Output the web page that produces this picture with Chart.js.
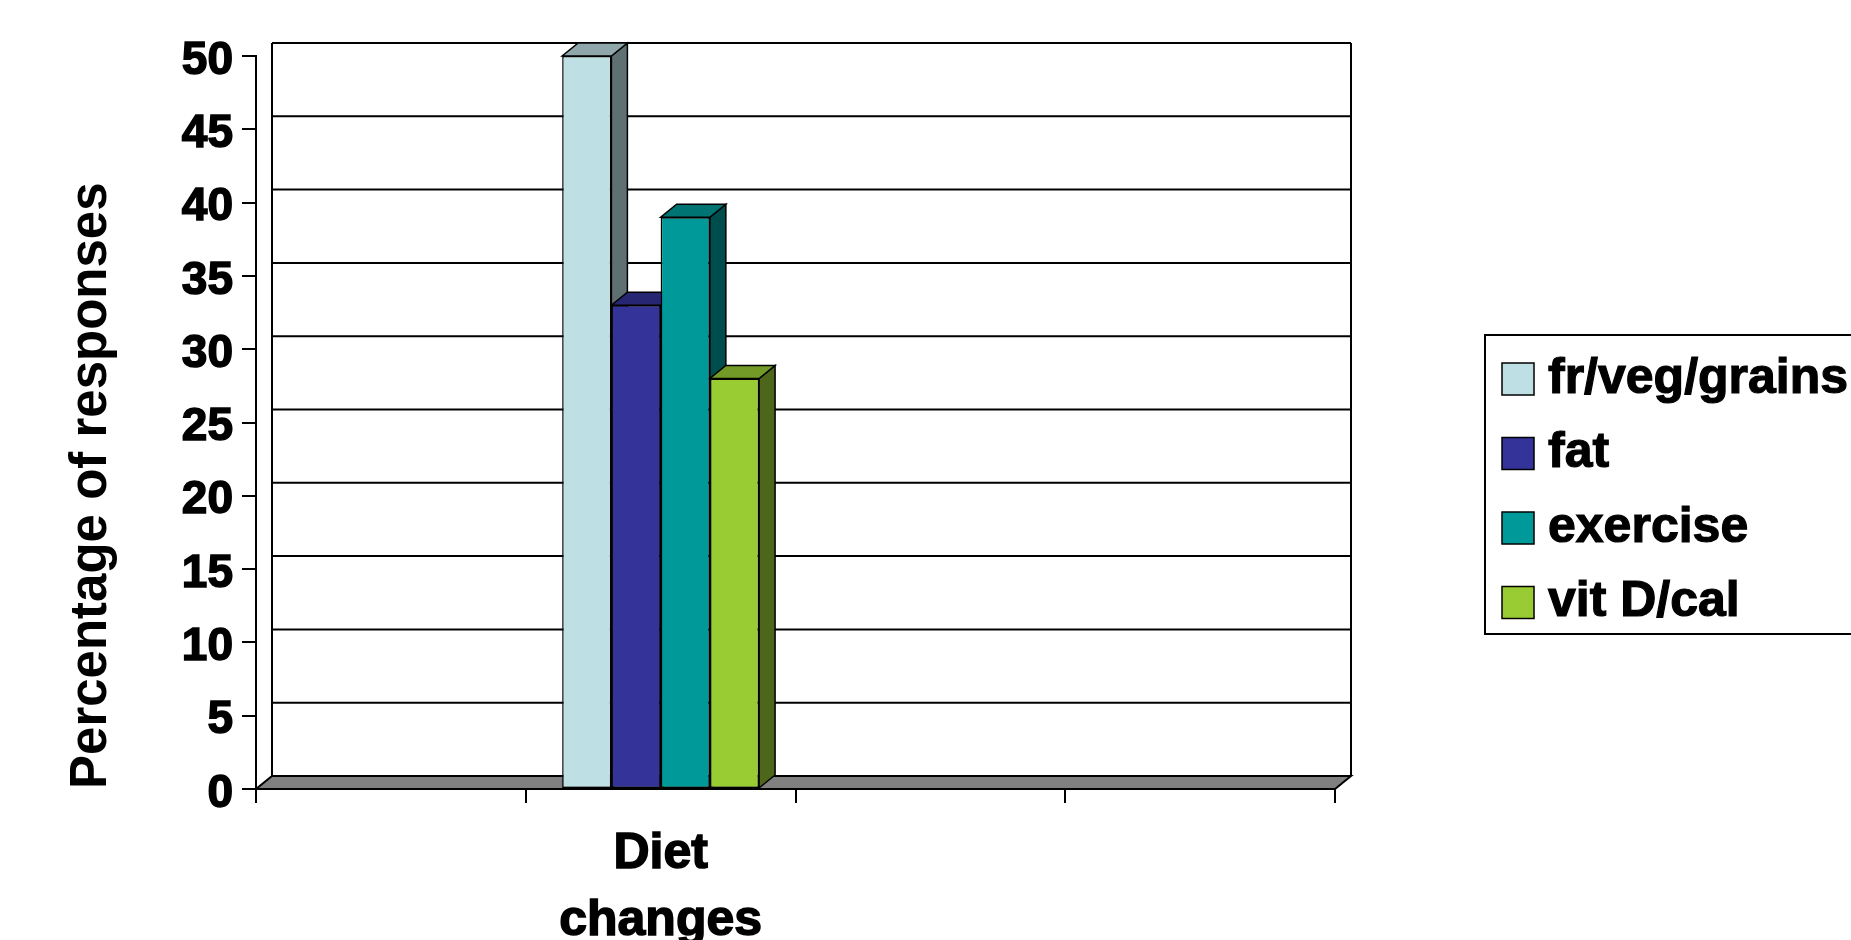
<!DOCTYPE html>
<html>
<head>
<meta charset="utf-8">
<script src="https://cdn.jsdelivr.net/npm/chart.js@4.4.1/dist/chart.umd.min.js"></script>
<style>
  html, body { margin: 0; padding: 0; background: #fff; overflow: hidden; }
  #wrap { width: 1851px; height: 940px; position: relative; }
</style>
</head>
<body>
<div id="wrap"><canvas id="chart"></canvas></div>
<script>
// data
const categories = ["", ["Diet", "changes"], "", ""];
const seriesNames = ["fr/veg/grains", "fat", "exercise", "vit D/cal"];
const dietChanges = [50, 33, 39, 28];
const yMin = 0, yMax = 50, yStep = 5;

const seriesColors = ["#BEDFE3", "#333399", "#009999", "#99CC33"];
const FONT = "'Liberation Sans', Arial, sans-serif";
const DX = 16, DY = -13; // depth of the fake 3d

function shade(hex, f) {
  const n = parseInt(hex.slice(1), 16);
  const r = Math.round(((n >> 16) & 255) * f);
  const g = Math.round(((n >> 8) & 255) * f);
  const b = Math.round((n & 255) * f);
  return `rgb(${r},${g},${b})`;
}

function poly(ctx, pts, fill) {
  ctx.beginPath();
  ctx.moveTo(pts[0][0], pts[0][1]);
  for (let i = 1; i < pts.length; i++) ctx.lineTo(pts[i][0], pts[i][1]);
  ctx.closePath();
  ctx.fillStyle = fill;
  ctx.fill();
  ctx.stroke();
}

const depthPlugin = {
  id: "depth3d",
  beforeDatasetsDraw(chart) {
    const { ctx, chartArea: a } = chart;
    const y = chart.scales.y;
    ctx.save();
    ctx.strokeStyle = "#000";
    ctx.lineWidth = 2;
    // back wall gridlines
    y.ticks.forEach(t => {
      const py = y.getPixelForValue(t.value) + DY;
      ctx.beginPath();
      ctx.moveTo(a.left + DX, py);
      ctx.lineTo(a.right + DX, py);
      ctx.stroke();
    });
    [a.left + DX, a.right + DX].forEach(px => {
      ctx.beginPath();
      ctx.moveTo(px, a.top + DY);
      ctx.lineTo(px, a.bottom + DY);
      ctx.stroke();
    });
    // floor
    poly(ctx, [[a.left, a.bottom], [a.right, a.bottom], [a.right + DX, a.bottom + DY], [a.left + DX, a.bottom + DY]], "#808080");
    // sides and tops of the bars, left to right
    ctx.lineWidth = 1.5;
    chart.data.datasets.forEach((ds, i) => {
      const meta = chart.getDatasetMeta(i);
      meta.data.forEach((bar, j) => {
        if (ds.data[j] == null) return;
        const p = bar.getProps(["x", "y", "base", "width"], true);
        const l = p.x - p.width / 2, r = p.x + p.width / 2;
        poly(ctx, [[r, p.y], [r + DX, p.y + DY], [r + DX, p.base + DY], [r, p.base]], shade(seriesColors[i], 0.5));
        poly(ctx, [[l, p.y], [r, p.y], [r + DX, p.y + DY], [l + DX, p.y + DY]], shade(seriesColors[i], 0.75));
      });
    });
    ctx.restore();
  },
  afterDraw(chart) {
    const ctx = chart.ctx;
    ctx.save();
    ctx.strokeStyle = "#000";
    ctx.lineWidth = 2;
    ctx.strokeRect(1485, 335, 420, 299);
    ctx.font = "bold 50px " + FONT;
    ctx.textBaseline = "middle";
    seriesNames.forEach((name, i) => {
      const cy = 379 + i * 74.5;
      ctx.fillStyle = seriesColors[i];
      ctx.fillRect(1502, cy - 16, 32, 32);
      ctx.lineWidth = 1.5;
      ctx.strokeRect(1502, cy - 16, 32, 32);
      ctx.fillStyle = "#000";
      ctx.fillText(name, 1548, cy);
      ctx.lineWidth = 1.2;
      ctx.strokeText(name, 1548, cy);
    });
    ctx.restore();
  }
};

const datasets = seriesNames.map((name, i) => ({
  label: name,
  data: categories.map((c, j) => (j === 1 ? dietChanges[i] : null)),
  backgroundColor: seriesColors[i],
  borderColor: "#000",
  borderWidth: 1.5,
  borderSkipped: false
}));

new Chart(document.getElementById("chart"), {
  type: "bar",
  data: { labels: categories, datasets },
  plugins: [depthPlugin],
  options: {
    responsive: true,
    maintainAspectRatio: false,
    animation: false,
    categoryPercentage: 0.73,
    barPercentage: 1,
    layout: { padding: { top: 56, right: 516, bottom: 0, left: 0 } },
    plugins: {
      legend: { display: false },
      tooltip: { enabled: false }
    },
    scales: {
      x: {
        afterFit: s => { s.height = 151; },
        grid: { drawOnChartArea: false, drawTicks: true, tickLength: 14, color: "#000", lineWidth: 2, offset: true },
        border: { display: true, color: "#000", width: 2 },
        ticks: {
          autoSkip: false, maxRotation: 0, minRotation: 0, padding: 18, color: "#000",
          textStrokeColor: "#000", textStrokeWidth: 1.5,
          font: { family: FONT, size: 50, weight: "bold", lineHeight: 1.33 }
        }
      },
      y: {
        min: yMin,
        max: yMax,
        afterFit: s => { s.width = 256; },
        grid: { drawOnChartArea: false, drawTicks: true, tickLength: 14, color: "#000", lineWidth: 2 },
        border: { display: true, color: "#000", width: 2 },
        ticks: {
          stepSize: yStep, padding: 9, labelOffset: 5, color: "#000",
          textStrokeColor: "#000", textStrokeWidth: 1.5,
          font: { family: FONT, size: 46, weight: "bold" }
        },
        title: {
          display: true,
          text: "Percentage of responses",
          align: "start",
          color: "#000",
          font: { family: FONT, size: 51, weight: "bold", lineHeight: 1.2 },
          padding: { top: 61, bottom: 0 }
        }
      }
    }
  }
});
</script>
</body>
</html>
